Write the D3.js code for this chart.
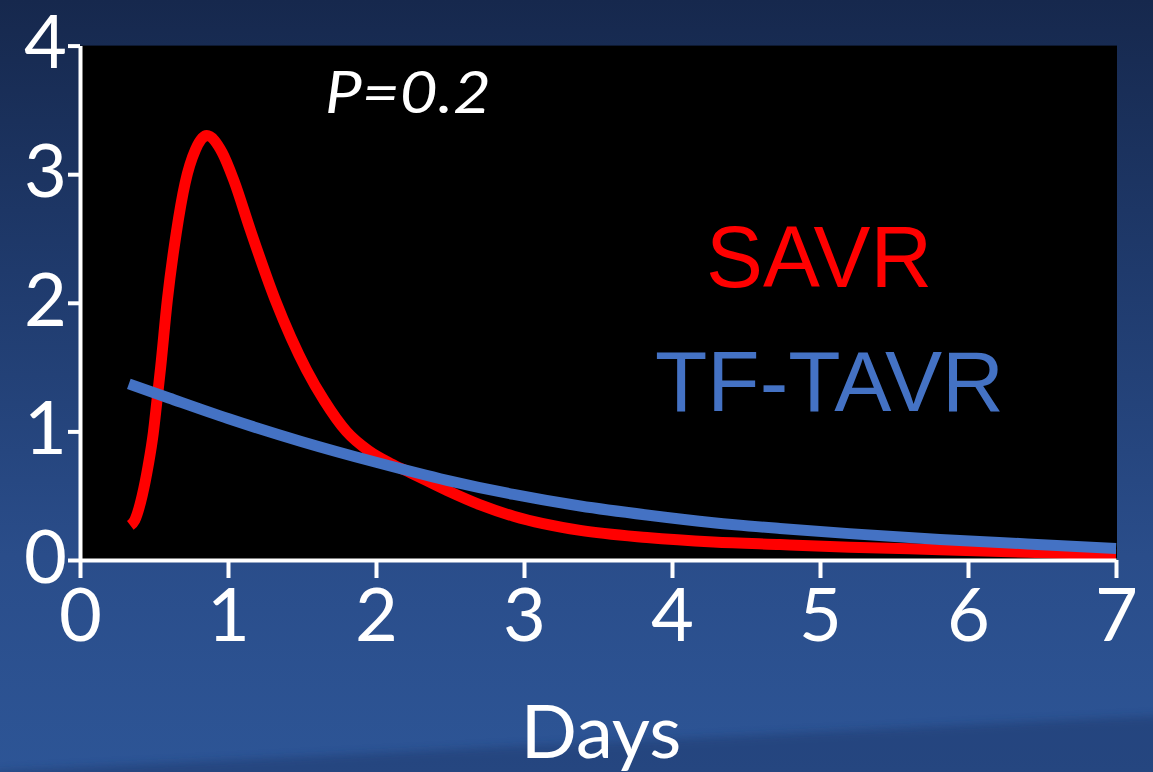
<!DOCTYPE html>
<html>
<head>
<meta charset="utf-8">
<script src="https://cdn.jsdelivr.net/npm/d3@7"></script>
<style>
  html, body { margin: 0; padding: 0; background: #1f3a6c; }
  svg { display: block; }
</style>
</head>
<body>
<svg id="chart" width="1153" height="772"></svg>
<script>
// Hazard curves (days after procedure)
const savrDays   = [0.34, 0.37, 0.42, 0.46, 0.495, 0.52, 0.545, 0.59, 0.65, 0.71, 0.78, 0.856, 0.96, 1.04, 1.15, 1.32, 1.53, 1.65, 1.80, 1.95, 2.10, 2.23, 2.48, 2.70, 2.93, 3.38, 3.83, 4.28, 4.73, 5.20, 5.81, 6.40, 7.00];
const savrHazard = [0.27, 0.31, 0.50, 0.73, 0.985, 1.24, 1.50, 2.02, 2.54, 2.93, 3.19, 3.30, 3.17, 2.95, 2.57, 2.02, 1.48, 1.24, 1.00, 0.85, 0.75, 0.68, 0.54, 0.43, 0.34, 0.23, 0.175, 0.14, 0.12, 0.10, 0.08, 0.06, 0.04];

const tavrDays   = [0.33, 0.60, 1.00, 1.50, 2.00, 2.48, 2.93, 3.38, 3.83, 4.28, 4.73, 5.20, 5.81, 6.40, 7.00];
const tavrHazard = [1.37, 1.26, 1.10, 0.92, 0.76, 0.62, 0.51, 0.42, 0.35, 0.29, 0.245, 0.205, 0.16, 0.125, 0.09];

const xTicks = [0, 1, 2, 3, 4, 5, 6, 7];
const yTicks = [0, 1, 2, 3, 4];

const seriesNames = ["SAVR", "TF-TAVR"];
const pValueText = "P=0.2";
const xAxisTitle = "Days";

const svg = d3.select("#chart");
const W = 1153, H = 772;

// Slide background
const defs = svg.append("defs");
const bg = defs.append("linearGradient").attr("id", "bg").attr("x1", 0).attr("y1", 0).attr("x2", 0).attr("y2", 1);
bg.append("stop").attr("offset", 0).attr("stop-color", "#16284d");
bg.append("stop").attr("offset", 0.35).attr("stop-color", "#1f3a6c");
bg.append("stop").attr("offset", 0.72).attr("stop-color", "#2a4d8a");
bg.append("stop").attr("offset", 1).attr("stop-color", "#2d5596");
defs.append("filter").attr("id", "soft").append("feGaussianBlur").attr("stdDeviation", 4);

svg.append("rect").attr("width", W).attr("height", H).attr("fill", "url(#bg)");
svg.append("path")
  .attr("d", "M-20,780 L0,771 L1153,716 L1175,714 L1175,790 L-20,790 Z")
  .attr("fill", "#1c3566").attr("opacity", 0.45).attr("filter", "url(#soft)");

const x = d3.scaleLinear().domain([0, 7]).range([80, 1116]);
const y = d3.scaleLinear().domain([0, 4]).range([560, 45.6]);

// Black plotting area
svg.append("rect")
  .attr("x", x(0)).attr("y", y(4))
  .attr("width", x(7) - x(0) + 1).attr("height", y(0) - y(4))
  .attr("fill", "#000");

// Curves
const line = d3.line().x(d => x(d[0])).y(d => y(d[1])).curve(d3.curveMonotoneX);
const savr = savrDays.map((d, i) => [d, savrHazard[i]]);
const tavr = tavrDays.map((d, i) => [d, tavrHazard[i]]);

svg.append("path").datum(savr).attr("d", line)
  .attr("fill", "none").attr("stroke", "#ff0000").attr("stroke-width", 11)
  .attr("stroke-linejoin", "round").attr("stroke-linecap", "butt");
svg.append("path").datum(tavr).attr("d", line)
  .attr("fill", "none").attr("stroke", "#4472c4").attr("stroke-width", 11)
  .attr("stroke-linecap", "butt");

// Axes
const tickFont = "Lato, 'Open Sans', sans-serif";

const xAxis = svg.append("g").attr("transform", `translate(0,${y(0)})`)
  .call(d3.axisBottom(x).tickValues(xTicks).tickFormat(d3.format("d")).tickSize(18).tickSizeOuter(0).tickPadding(10));
const yAxis = svg.append("g").attr("transform", `translate(${x(0)},0)`)
  .call(d3.axisLeft(y).tickValues(yTicks).tickFormat(d3.format("d")).tickSize(12).tickSizeOuter(0).tickPadding(1));

[xAxis, yAxis].forEach(g => {
  g.select(".domain").attr("stroke", "#fff").attr("stroke-width", 4);
  g.selectAll(".tick line").attr("stroke", "#fff").attr("stroke-width", 4);
  g.selectAll(".tick text").attr("fill", "#fff")
    .style("font-family", tickFont).style("font-size", "74px");
});
yAxis.selectAll(".tick text").attr("dy", "0.3em");

// Axis title
svg.append("text").attr("x", 601).attr("y", 758).attr("text-anchor", "middle")
  .attr("fill", "#fff").style("font-family", tickFont).style("font-size", "74px")
  .text(xAxisTitle);

// P value
svg.append("text").attr("x", 325).attr("y", 113)
  .attr("fill", "#fff").style("font-family", tickFont).style("font-style", "italic").style("font-size", "59px")
  .attr("textLength", 166).attr("lengthAdjust", "spacingAndGlyphs")
  .text(pValueText);

// Series labels
svg.append("text").attr("x", 706).attr("y", 287)
  .attr("fill", "#ff0000").style("font-family", "'Liberation Sans', Arial, sans-serif").style("font-size", "88px")
  .attr("textLength", 226).attr("lengthAdjust", "spacingAndGlyphs")
  .text(seriesNames[0]);
svg.append("text").attr("x", 655).attr("y", 411)
  .attr("fill", "#4472c4").style("font-family", "'Liberation Sans', Arial, sans-serif").style("font-size", "85px")
  .attr("textLength", 349).attr("lengthAdjust", "spacingAndGlyphs")
  .text(seriesNames[1]);
</script>
</body>
</html>
